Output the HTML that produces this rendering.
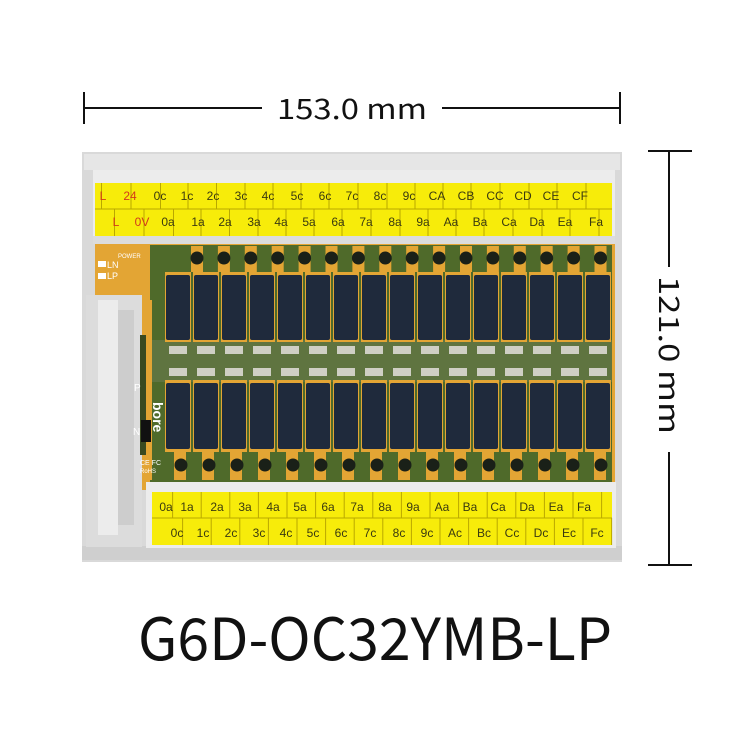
<!DOCTYPE html>
<html><head><meta charset="utf-8"><style>
html,body{margin:0;padding:0;background:#fff;}
svg{display:block;}
text{font-family:"Liberation Sans",sans-serif;}
.t{font-size:12px;fill:#3a3a10;text-anchor:middle;}
.r{fill:#d23a1a;}
.dim{font-family:"Noto Sans CJK SC","Liberation Sans",sans-serif;}
</style></head><body>
<svg width="750" height="750" viewBox="0 0 750 750" xmlns="http://www.w3.org/2000/svg">
<rect width="750" height="750" fill="#fff"/>
<g stroke="#111" stroke-width="2">
<line x1="84" y1="108" x2="262" y2="108"/><line x1="442" y1="108" x2="620" y2="108"/>
<line x1="84" y1="92" x2="84" y2="124"/><line x1="620" y1="92" x2="620" y2="124"/>
<line x1="669" y1="151" x2="669" y2="267"/><line x1="669" y1="452" x2="669" y2="565"/>
<line x1="648" y1="151" x2="692" y2="151"/><line x1="648" y1="565" x2="692" y2="565"/>
</g>
<text class="dim" x="352" y="119" font-size="28" text-anchor="middle" fill="#111" textLength="150" lengthAdjust="spacingAndGlyphs">153.0 mm</text>
<text class="dim" x="0" y="0" font-size="28" text-anchor="middle" fill="#111" textLength="158" lengthAdjust="spacingAndGlyphs" transform="translate(659,355) rotate(90)">121.0 mm</text>

<rect x="82" y="152" width="540" height="410" fill="#d9d9d9"/>
<rect x="84" y="154" width="536" height="16" fill="#e6e6e6"/>
<rect x="82" y="546" width="540" height="14" fill="#cfcfcf"/>
<rect x="95" y="240" width="520" height="250" fill="#e3a534"/>
<rect x="150" y="245" width="462" height="240" fill="#4f6a2a"/>
<rect x="150" y="340" width="462" height="42" fill="#5f7440"/>
<g id="smd"></g>
<rect x="93" y="170" width="522" height="74" fill="#ececec"/>
<rect x="95" y="183" width="517" height="53" fill="#f7ec0a"/>
<line x1="95" y1="209" x2="612" y2="209" stroke="#b9a800" stroke-width="1"/>
<rect x="93" y="236" width="522" height="8" fill="#dcdcdc"/>
<rect x="146" y="482" width="470" height="66" fill="#ececec"/>
<rect x="152" y="492" width="460" height="53" fill="#f7ec0a"/>
<line x1="152" y1="518" x2="612" y2="518" stroke="#b9a800" stroke-width="1"/>
<g id="div" stroke="#b9a800" stroke-width="1"></g>
<rect x="86" y="295" width="56" height="252" fill="#dcdcdc"/>
<rect x="98" y="300" width="20" height="235" fill="#ececec"/>
<rect x="118" y="310" width="16" height="215" fill="#cdcdcd"/>
<rect x="140" y="335" width="8" height="120" fill="#3a4a20"/>
<rect x="146" y="300" width="6" height="180" fill="#e3a534"/>
<g id="rel"></g>
<rect x="98" y="261" width="8" height="6" fill="#fff"/>
<rect x="98" y="273" width="8" height="6" fill="#fff"/>
<text x="107" y="268" font-size="9" fill="#fff" font-family="Liberation Serif">LN</text>
<text x="107" y="279" font-size="9" fill="#fff" font-family="Liberation Serif">LP</text>
<text x="118" y="258" font-size="6" fill="#fff">POWER</text>
<text x="134" y="391" font-size="10" fill="#fff" font-family="Liberation Serif">P</text>
<text x="133" y="435" font-size="10" fill="#fff" font-family="Liberation Serif">N</text>
<rect x="141" y="420" width="10" height="22" fill="#111"/>
<text x="140" y="465" font-size="7" fill="#fff">CE FC</text>
<text x="140" y="473" font-size="6" fill="#fff">RoHS</text>
<text x="0" y="0" font-size="14" fill="#fff" font-weight="bold" transform="translate(153,402) rotate(90)">bore</text>

<g class="t">
<text x="103" y="200" class="t r">L</text><text x="130" y="200" class="t r">24</text>
<text x="160" y="200">0c</text><text x="187" y="200">1c</text><text x="213" y="200">2c</text><text x="241" y="200">3c</text><text x="268" y="200">4c</text><text x="297" y="200">5c</text><text x="325" y="200">6c</text><text x="352" y="200">7c</text><text x="380" y="200">8c</text><text x="409" y="200">9c</text><text x="437" y="200">CA</text><text x="466" y="200">CB</text><text x="495" y="200">CC</text><text x="523" y="200">CD</text><text x="551" y="200">CE</text><text x="580" y="200">CF</text>
<text x="116" y="226" class="t r">L</text><text x="142" y="226" class="t r">0V</text>
<text x="168" y="226">0a</text><text x="198" y="226">1a</text><text x="225" y="226">2a</text><text x="254" y="226">3a</text><text x="281" y="226">4a</text><text x="309" y="226">5a</text><text x="338" y="226">6a</text><text x="366" y="226">7a</text><text x="395" y="226">8a</text><text x="423" y="226">9a</text><text x="451" y="226">Aa</text><text x="480" y="226">Ba</text><text x="509" y="226">Ca</text><text x="537" y="226">Da</text><text x="565" y="226">Ea</text><text x="596" y="226">Fa</text>
<text x="166" y="511">0a</text><text x="187" y="511">1a</text><text x="217" y="511">2a</text><text x="245" y="511">3a</text><text x="273" y="511">4a</text><text x="300" y="511">5a</text><text x="328" y="511">6a</text><text x="357" y="511">7a</text><text x="385" y="511">8a</text><text x="413" y="511">9a</text><text x="442" y="511">Aa</text><text x="470" y="511">Ba</text><text x="498" y="511">Ca</text><text x="527" y="511">Da</text><text x="556" y="511">Ea</text><text x="584" y="511">Fa</text>
<text x="177" y="537">0c</text><text x="203" y="537">1c</text><text x="231" y="537">2c</text><text x="259" y="537">3c</text><text x="286" y="537">4c</text><text x="313" y="537">5c</text><text x="341" y="537">6c</text><text x="370" y="537">7c</text><text x="399" y="537">8c</text><text x="427" y="537">9c</text><text x="455" y="537">Ac</text><text x="484" y="537">Bc</text><text x="512" y="537">Cc</text><text x="541" y="537">Dc</text><text x="569" y="537">Ec</text><text x="597" y="537">Fc</text>
</g>

<text class="dim" x="375" y="660" font-size="58" fill="#111" text-anchor="middle" textLength="474" lengthAdjust="spacingAndGlyphs">G6D-OC32YMB-LP</text>
</svg>
<script>
var ns="http://www.w3.org/2000/svg";
function el(p,n,a){var e=document.createElementNS(ns,n);for(var k in a)e.setAttribute(k,a[k]);document.getElementById(p).appendChild(e);}
var tx=[116.5,146,175.5,203,231.5,260,288,316,344,373,402,430,458,486,515,544,572,601];
for(var i=0;i<tx.length;i++){el("div","line",{x1:tx[i]-15,y1:183,x2:tx[i]-15,y2:209});el("div","line",{x1:tx[i]-2,y1:209,x2:tx[i]-2,y2:236});}
for(var i=0;i<16;i++){var x=152+28.6*(i+1);el("div","line",{x1:x-8,y1:492,x2:x-8,y2:518});el("div","line",{x1:x+2,y1:518,x2:x+2,y2:545});}
for(var i=0;i<16;i++){var c=178+28*i;var t=197+26.9*i;
el("smd","rect",{x:t-6,y:246,width:12,height:26,fill:"#e3a534"});
el("smd","rect",{x:c-4,y:452,width:12,height:28,fill:"#e3a534"});
el("rel","rect",{x:c-13,y:272,width:26,height:70,fill:"#e3a534"});
el("rel","rect",{x:c-13,y:380,width:26,height:72,fill:"#e3a534"});
el("rel","rect",{x:c-12,y:275,width:24,height:65,rx:2,fill:"#1f2a3c"});
el("rel","rect",{x:c-12,y:383,width:24,height:66,rx:2,fill:"#1f2a3c"});
el("rel","circle",{cx:t,cy:258,r:6.5,fill:"#1a2018"});
el("rel","circle",{cx:c+3,cy:465,r:6.5,fill:"#1a2018"});
el("rel","rect",{x:c-9,y:346,width:18,height:8,fill:"#cfcfc4"});
el("rel","rect",{x:c-9,y:368,width:18,height:8,fill:"#cfcfc4"});}
</script>
</body></html>
